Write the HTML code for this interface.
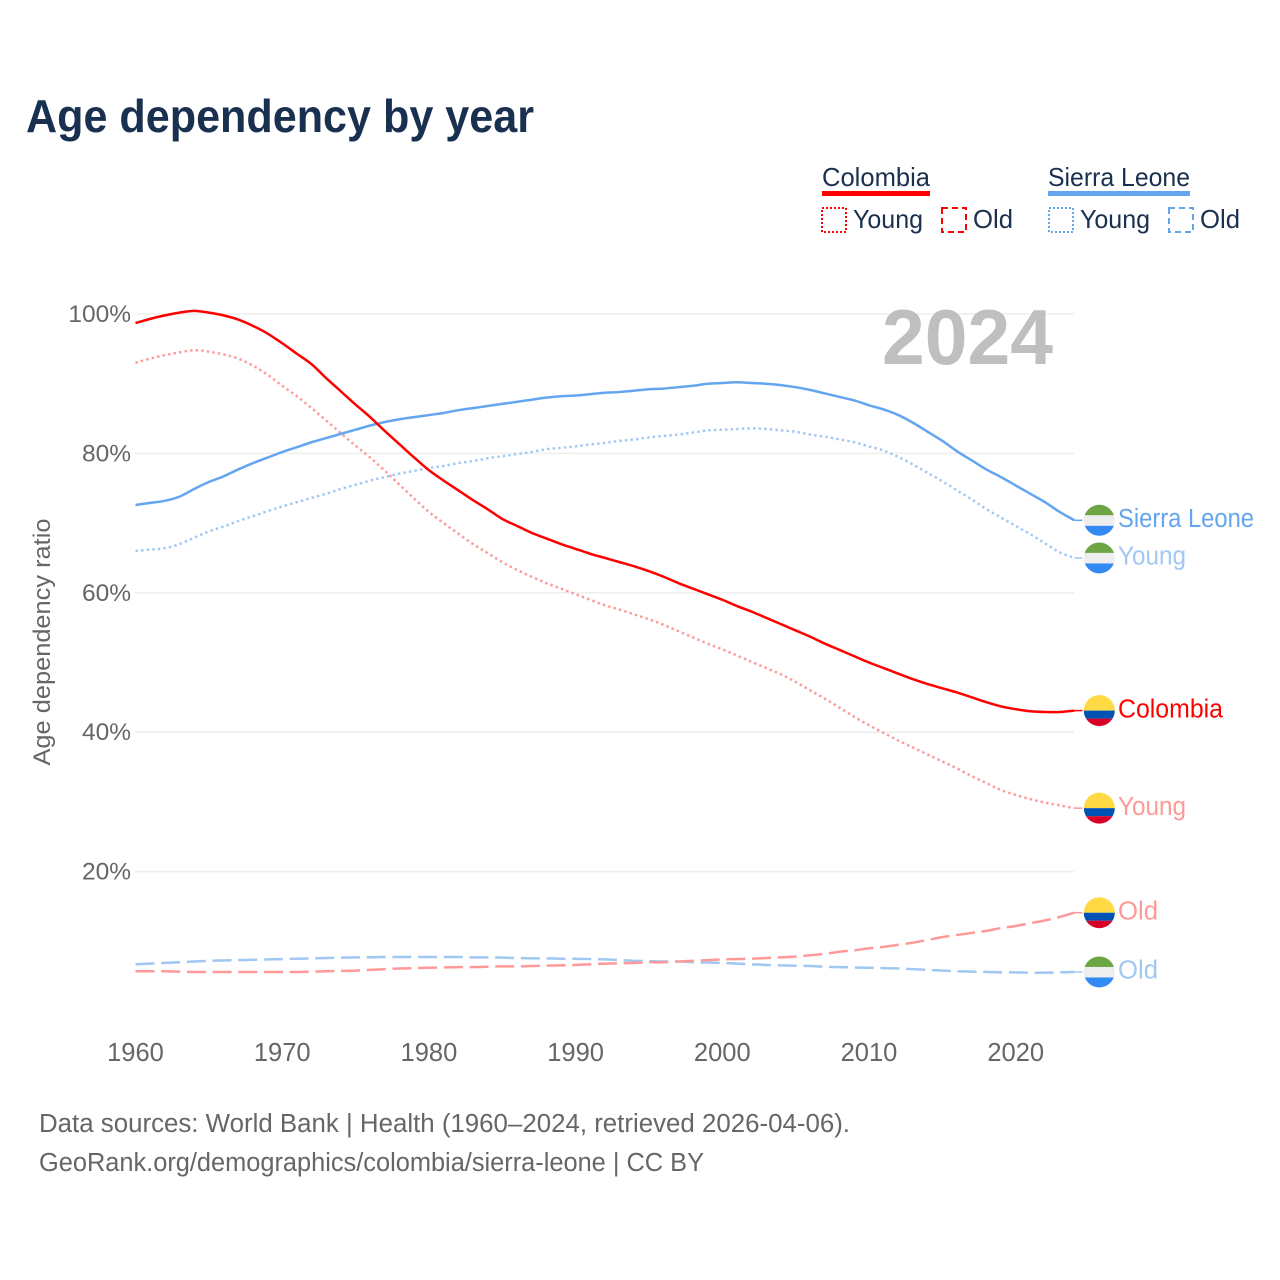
<!DOCTYPE html>
<html lang="en">
<head>
<meta charset="utf-8">
<title>Age dependency by year</title>
<style>
html,body{margin:0;padding:0;background:#fff;}
svg{display:block;font-family:"Liberation Sans",sans-serif;}
</style>
</head>
<body>
<svg id="chart" width="1280" height="1280" viewBox="0 0 1280 1280" xmlns="http://www.w3.org/2000/svg">
<defs>
<clipPath id="flag-clip-circle"><circle cx="0" cy="0" r="15.5"/></clipPath>
<g id="flag-sierra-leone">
<g clip-path="url(#flag-clip-circle)">
<rect x="-16" y="-16" width="32" height="11" fill="#6da544"/>
<rect x="-16" y="-5" width="32" height="11" fill="#eeeeee"/>
<rect x="-16" y="5.5" width="32" height="11" fill="#338af3"/>
</g>
</g>
<g id="flag-colombia">
<g clip-path="url(#flag-clip-circle)">
<rect x="-16" y="-16" width="32" height="16" fill="#ffda44"/>
<rect x="-16" y="0" width="32" height="8" fill="#0052b4"/>
<rect x="-16" y="8" width="32" height="8" fill="#d80027"/>
</g>
</g>
</defs>
<rect width="1280" height="1280" fill="#fff"/>
<text x="26" y="132" font-size="46" font-weight="700" fill="#1a3050" textLength="508" lengthAdjust="spacingAndGlyphs">Age dependency by year</text>

<g font-size="26" fill="#1a3050">
<text x="822" y="186" textLength="108" lengthAdjust="spacingAndGlyphs">Colombia</text>
<rect x="822" y="191" width="108" height="5" fill="#ff0000"/>
<rect x="822" y="208" width="24" height="24" fill="none" stroke="#ff0000" stroke-width="2" stroke-dasharray="2 2"/>
<text x="853" y="228" textLength="70" lengthAdjust="spacingAndGlyphs">Young</text>
<rect x="942" y="208" width="24" height="24" fill="none" stroke="#ff0000" stroke-width="2" stroke-dasharray="6 4"/>
<text x="973" y="228" textLength="40" lengthAdjust="spacingAndGlyphs">Old</text>
<text x="1048" y="186" textLength="142" lengthAdjust="spacingAndGlyphs">Sierra Leone</text>
<rect x="1048" y="191" width="142" height="5" fill="#63a6ef"/>
<rect x="1049" y="208" width="24" height="24" fill="none" stroke="#63a6ef" stroke-width="2" stroke-dasharray="2 2"/>
<text x="1080" y="228" textLength="70" lengthAdjust="spacingAndGlyphs">Young</text>
<rect x="1169" y="208" width="24" height="24" fill="none" stroke="#63a6ef" stroke-width="2" stroke-dasharray="6 4"/>
<text x="1200" y="228" textLength="40" lengthAdjust="spacingAndGlyphs">Old</text>
</g>

<g id="grid"></g>
<g id="y-ticks"></g>
<g id="x-ticks"></g>
<text x="882" y="364" font-size="78" font-weight="700" fill="#bfbfbf" textLength="171" lengthAdjust="spacingAndGlyphs">2024</text>
<text transform="translate(50 642) rotate(-90)" text-anchor="middle" font-size="24" fill="#666666" textLength="247" lengthAdjust="spacingAndGlyphs">Age dependency ratio</text>
<g id="series"></g>
<g id="end-labels"></g>

<g font-size="25.5" fill="#666666">
<text x="39" y="1132" textLength="811" lengthAdjust="spacingAndGlyphs">Data sources: World Bank | Health (1960–2024, retrieved 2026-04-06).</text>
<text x="39" y="1171" textLength="665" lengthAdjust="spacingAndGlyphs">GeoRank.org/demographics/colombia/sierra-leone | CC BY</text>
</g>
</svg>
<script>
var firstYear = 1960;
var yTickValues = [20, 40, 60, 80, 100];
var xTickYears = [1960, 1970, 1980, 1990, 2000, 2010, 2020];
var colombiaTotal = [
98.7,99.3,99.8,100.2,100.45,100.2,99.8,99.2,98.3,97.2,
95.8,94.3,92.8,90.8,88.9,87.0,85.2,83.2,81.3,79.4,
77.6,76.1,74.7,73.3,72.0,70.6,69.6,68.6,67.8,67.0,
66.3,65.6,65.0,64.4,63.8,63.1,62.3,61.4,60.6,59.8,
59.0,58.1,57.3,56.4,55.5,54.6,53.7,52.7,51.8,50.9,
50.0,49.2,48.4,47.6,46.9,46.3,45.7,45.0,44.3,43.7,
43.3,43.0,42.9,42.9,43.1];
var colombiaYoung = [
93.0,93.6,94.1,94.5,94.8,94.6,94.2,93.6,92.6,91.3,
89.7,88.2,86.5,84.7,82.9,81.1,79.4,77.5,75.5,73.5,
71.6,70.0,68.5,67.0,65.7,64.4,63.3,62.3,61.4,60.6,
59.8,59.0,58.2,57.6,56.9,56.2,55.4,54.5,53.6,52.7,
51.9,51.0,50.1,49.2,48.3,47.2,46.0,44.8,43.5,42.2,
41.0,39.9,38.8,37.8,36.8,35.8,34.8,33.7,32.7,31.7,
31.0,30.4,29.9,29.5,29.1];
var colombiaOld = [
5.7,5.7,5.7,5.65,5.6,5.6,5.6,5.6,5.6,5.6,
5.6,5.6,5.65,5.7,5.75,5.8,5.9,6.0,6.1,6.15,
6.2,6.25,6.3,6.3,6.35,6.4,6.4,6.45,6.5,6.55,
6.6,6.7,6.8,6.85,6.9,7.0,7.0,7.1,7.2,7.3,
7.4,7.45,7.5,7.6,7.7,7.8,8.0,8.2,8.5,8.7,
9.0,9.2,9.5,9.8,10.2,10.6,10.9,11.2,11.5,11.9,
12.2,12.6,13.0,13.5,14.1];
var sierraTotal = [
72.6,72.9,73.2,73.8,74.9,75.9,76.7,77.7,78.6,79.4,
80.2,80.9,81.6,82.2,82.8,83.4,84.0,84.5,84.9,85.2,
85.5,85.8,86.2,86.5,86.8,87.1,87.4,87.7,88.0,88.2,
88.3,88.5,88.7,88.8,89.0,89.2,89.3,89.5,89.7,90.0,
90.1,90.2,90.1,90.0,89.8,89.5,89.1,88.6,88.1,87.6,
86.9,86.3,85.5,84.4,83.1,81.8,80.3,79.0,77.7,76.6,
75.4,74.2,73.0,71.6,70.4];
var sierraYoung = [
66.0,66.2,66.4,67.0,67.9,68.8,69.5,70.3,71.0,71.7,
72.4,73.0,73.6,74.2,74.9,75.5,76.1,76.6,77.1,77.5,
77.9,78.2,78.6,78.9,79.3,79.6,79.9,80.2,80.6,80.8,
81.0,81.3,81.5,81.8,82.0,82.3,82.5,82.7,83.0,83.3,
83.4,83.5,83.6,83.5,83.3,83.1,82.7,82.4,82.0,81.6,
81.0,80.4,79.5,78.4,77.2,76.0,74.7,73.4,72.0,70.8,
69.6,68.4,67.1,65.8,65.0];
var sierraOld = [
6.7,6.8,6.9,7.0,7.1,7.2,7.25,7.3,7.35,7.4,
7.45,7.5,7.55,7.6,7.65,7.7,7.7,7.75,7.75,7.75,
7.75,7.75,7.75,7.7,7.7,7.65,7.6,7.55,7.55,7.5,
7.5,7.45,7.4,7.3,7.2,7.15,7.1,7.1,7.0,6.95,
6.9,6.8,6.7,6.6,6.55,6.5,6.45,6.35,6.3,6.25,
6.2,6.15,6.1,6.0,5.9,5.8,5.7,5.65,5.6,5.55,
5.55,5.5,5.5,5.55,5.6];

var NS = 'http://www.w3.org/2000/svg';
function xScale(year) { return 135.5 + (year - firstYear) * 14.67; }
function yScale(v) { return 314 + (100 - v) * 6.97; }
function make(tag, attrs, parent) {
  var el = document.createElementNS(NS, tag);
  for (var k in attrs) { el.setAttribute(k, attrs[k]); }
  parent.appendChild(el);
  return el;
}
function smoothPath(values) {
  var pts = values.map(function (v, i) { return [xScale(firstYear + i), yScale(v)]; });
  var d = 'M' + pts[0][0].toFixed(2) + ' ' + pts[0][1].toFixed(2);
  for (var i = 0; i < pts.length - 1; i++) {
    var p0 = pts[Math.max(i - 1, 0)], p1 = pts[i], p2 = pts[i + 1], p3 = pts[Math.min(i + 2, pts.length - 1)];
    var c1x = p1[0] + (p2[0] - p0[0]) / 6, c1y = p1[1] + (p2[1] - p0[1]) / 6;
    var c2x = p2[0] - (p3[0] - p1[0]) / 6, c2y = p2[1] - (p3[1] - p1[1]) / 6;
    d += ' C' + c1x.toFixed(2) + ' ' + c1y.toFixed(2) + ' ' + c2x.toFixed(2) + ' ' + c2y.toFixed(2) + ' ' + p2[0].toFixed(2) + ' ' + p2[1].toFixed(2);
  }
  return d;
}
var gridGroup = document.getElementById('grid');
var yGroup = document.getElementById('y-ticks');
var xGroup = document.getElementById('x-ticks');
var seriesGroup = document.getElementById('series');
var labelGroup = document.getElementById('end-labels');

yTickValues.forEach(function (v) {
  var line = make('line', {x1: 135, x2: 1074, y1: yScale(v), y2: yScale(v), stroke: '#eeeeee', 'stroke-width': 1.5}, gridGroup);
  
  
  var t = make('text', {x: 131, y: yScale(v) + 8, 'text-anchor': 'end', 'font-size': 24.5, fill: '#666666'}, yGroup);
  t.textContent = v + '%';
  
  
});
xTickYears.forEach(function (yr) {
  var t = make('text', {x: xScale(yr), y: 1061, 'text-anchor': 'middle', 'font-size': 25.5, fill: '#666666'}, xGroup);
  t.textContent = yr;
  
  
});

var seriesList = [
  {key: 'sierra-leone-old', values: sierraOld, color: '#a0c8f3', dash: '19 6.7', flag: '#flag-sierra-leone', label: 'Old', width: 2.5},
  {key: 'colombia-old', values: colombiaOld, color: '#ff9999', dash: '19 6.7', flag: '#flag-colombia', label: 'Old', width: 2.5},
  {key: 'colombia-young', values: colombiaYoung, color: '#ff9999', dash: '2.4 3.2', flag: '#flag-colombia', label: 'Young', width: 2.5},
  {key: 'sierra-leone-young', values: sierraYoung, color: '#a0c8f3', dash: '2.4 3.2', flag: '#flag-sierra-leone', label: 'Young', width: 2.5},
  {key: 'sierra-leone-total', values: sierraTotal, color: '#63a6ef', dash: '', flag: '#flag-sierra-leone', label: 'Sierra Leone', width: 2.5},
  {key: 'colombia-total', values: colombiaTotal, color: '#ff0000', dash: '', flag: '#flag-colombia', label: 'Colombia', width: 2.5}
];
var labelWidths = {'Old': 40, 'Young': 68, 'Sierra Leone': 136, 'Colombia': 105};

seriesList.forEach(function (s) {
  var attrs = {d: smoothPath(s.values), fill: 'none', stroke: s.color, 'stroke-width': s.width, 'stroke-linejoin': 'round'};
  if (s.dash) { attrs['stroke-dasharray'] = s.dash; }
  var path = make('path', attrs, seriesGroup);
  
  

  var last = s.values[s.values.length - 1];
  var ly = yScale(last);
  var lastX = xScale(firstYear + s.values.length - 1);
  var conn = make('line', {x1: lastX, x2: lastX + 8, y1: ly, y2: ly, stroke: s.color, 'stroke-width': 1.5}, labelGroup);
  
  
  var flag = make('use', {href: s.flag, transform: 'translate(1099.3 ' + ly.toFixed(2) + ')'}, labelGroup);
  
  
  var t = make('text', {x: 1118, y: ly + 6.7, 'font-size': 25.5, fill: s.color, textLength: labelWidths[s.label], lengthAdjust: 'spacingAndGlyphs'}, labelGroup);
  t.textContent = s.label;
  
  
});
</script>
</body>
</html>
